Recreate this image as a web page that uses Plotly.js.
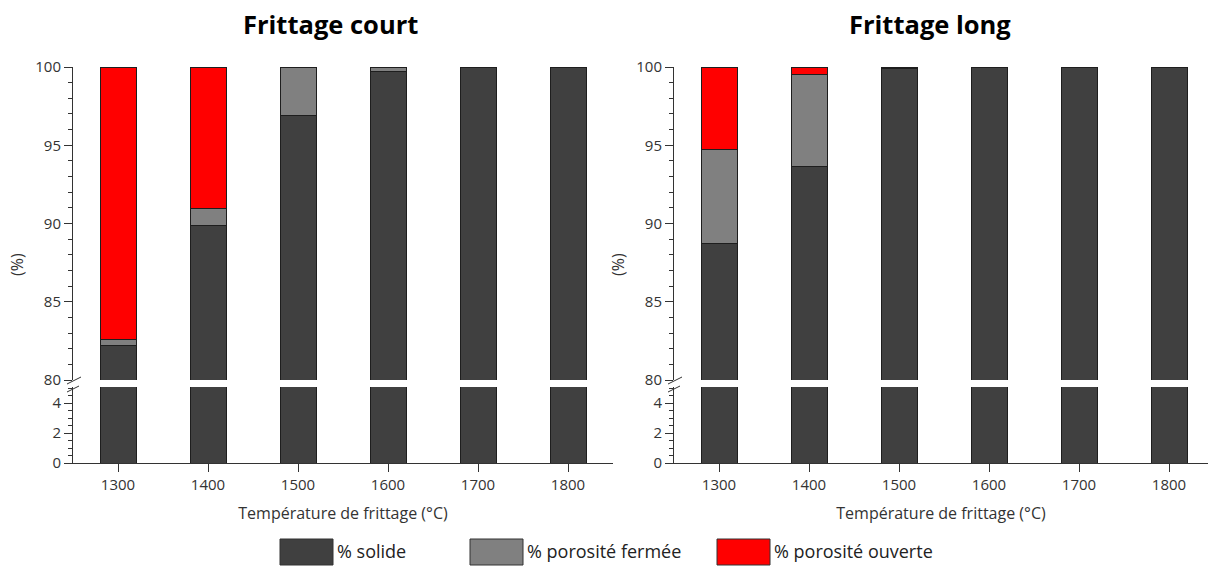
<!DOCTYPE html>
<html>
<head>
<meta charset="utf-8">
<script src="https://cdn.plot.ly/plotly-3.0.1.min.js"></script>
<style>html,body{margin:0;padding:0;background:#fff;}#chart{width:1208px;height:567px;}</style>
</head>
<body>
<div id="chart"></div>
<script>
// ---- data ----
const temps = [1300, 1400, 1500, 1600, 1700, 1800];
const courtSolide  = [82.2, 89.85, 96.9, 99.7, 100, 100];
const courtFermee  = [0.4, 1.1, 3.1, 0.3, 0, 0];
const courtOuverte = [17.4, 9.05, 0, 0, 0, 0];
const longSolide   = [88.75, 93.65, 99.9, 100, 100, 100];
const longFermee   = [5.95, 5.9, 0.1, 0, 0, 0];
const longOuverte  = [5.3, 0.45, 0, 0, 0, 0];
const seriesNames = ['% solide', '% porosité fermée', '% porosité ouverte'];
const panelTitles = ['Frittage court', 'Frittage long'];
const xTitle = 'Température de frittage (°C)';
const yTitle = '(%)';
const upperTicks = [80, 85, 90, 95, 100];
const lowerTicks = [0, 2, 4];

// ---- style ----
const colors = ['#404040', '#808080', '#ff0000'];
const edge = {color: '#1e1e1e', width: 1};
const W = 1208, H = 567;
const px = v => v / W, py = v => 1 - v / H;
const font = {family: 'Open Sans, sans-serif', size: 15, color: '#333'};
const titleFont = {family: 'Open Sans, sans-serif', size: 16, color: '#333'};

function bar(x, y, i, xa, ya) {
  return {type: 'bar', x: x, y: y, name: seriesNames[i], xaxis: xa, yaxis: ya,
    width: 40, marker: {color: colors[i], line: edge}, showlegend: false, hoverinfo: 'x+y+name'};
}
const traces = [
  bar(temps, courtSolide, 0, 'x', 'y'),
  bar(temps, courtFermee, 1, 'x', 'y'),
  bar(temps, courtOuverte, 2, 'x', 'y'),
  bar(temps, courtSolide, 0, 'x', 'y2'),
  bar(temps, longSolide, 0, 'x2', 'y3'),
  bar(temps, longFermee, 1, 'x2', 'y3'),
  bar(temps, longOuverte, 2, 'x2', 'y3'),
  bar(temps, longSolide, 0, 'x2', 'y4'),
];

const upperDom = [py(380), py(67)];
const lowerDom = [py(463), py(387)];
const leftDom = [px(73), px(613)];
const rightDom = [px(674), 1];

function xaxis(dom, anchor, rangeEnd) {
  return {domain: dom, anchor: anchor, range: [1250, rangeEnd], tickvals: temps, ticktext: temps.map(String),
    showline: true, linecolor: '#333', linewidth: 1, ticks: 'outside', ticklen: 8, tickcolor: '#333',
    showgrid: false, zeroline: false, tickfont: font,
    title: {text: xTitle, font: titleFont, standoff: 14}};
}
function yaxis(dom, anchor, range, tickvals, minorDt) {
  return {domain: dom, anchor: anchor, range: range, tickvals: tickvals, ticktext: tickvals.map(String),
    showline: true, linecolor: '#333', linewidth: 1, ticks: 'outside', ticklen: 8, tickcolor: '#333',
    showgrid: false, zeroline: false, tickfont: font,
    minor: {dtick: minorDt, tick0: 0, ticks: 'outside', ticklen: 4, tickcolor: '#333', showgrid: false}};
}

const shapes = [];
const annotations = [];
// axis break marks
[73, 674].forEach(ax => {
  shapes.push({type: 'line', xref: 'paper', yref: 'paper', x0: px(ax - 6), y0: py(384), x1: px(ax + 8), y1: py(377), line: {color: '#333', width: 1}});
  shapes.push({type: 'line', xref: 'paper', yref: 'paper', x0: px(ax - 6), y0: py(392), x1: px(ax + 6), y1: py(386), line: {color: '#333', width: 1}});
});
// titles
annotations.push({text: '<b>' + panelTitles[0] + '</b>', xref: 'paper', yref: 'paper', x: px(330), y: py(24), xanchor: 'center', yanchor: 'middle', showarrow: false, font: {family: 'Open Sans, sans-serif', size: 25.5, color: '#000'}});
annotations.push({text: '<b>' + panelTitles[1] + '</b>', xref: 'paper', yref: 'paper', x: px(930), y: py(24), xanchor: 'center', yanchor: 'middle', showarrow: false, font: {family: 'Open Sans, sans-serif', size: 25.5, color: '#000'}});
// y titles
[17, 618].forEach(xx => annotations.push({text: yTitle, xref: 'paper', yref: 'paper', x: px(xx), y: py(265), textangle: -90, xanchor: 'center', yanchor: 'middle', showarrow: false, font: titleFont}));
// custom legend
const legX = [280, 470, 717];
legX.forEach((lx, i) => {
  shapes.push({type: 'rect', xref: 'paper', yref: 'paper', x0: px(lx), x1: px(lx + 53), y0: py(565), y1: py(539), fillcolor: colors[i], line: {color: '#333', width: 1}});
  annotations.push({text: seriesNames[i], xref: 'paper', yref: 'paper', x: px(lx + 55), y: py(551), xanchor: 'left', yanchor: 'middle', showarrow: false, font: {family: 'Open Sans, sans-serif', size: 18, color: '#222'}});
});

const layout = {
  width: W, height: H, margin: {l: 0, r: 0, t: 0, b: 0},
  paper_bgcolor: '#fff', plot_bgcolor: 'rgba(0,0,0,0)',
  barmode: 'stack', showlegend: false, font: font,
  xaxis: xaxis(leftDom, 'y2', 1850),
  xaxis2: xaxis(rightDom, 'y4', 1250 + (W - 674) / 0.9),
  yaxis: yaxis(upperDom, 'x', [80, 100], upperTicks, 1),
  yaxis2: yaxis(lowerDom, 'x', [0, 5.07], lowerTicks, 0.5),
  yaxis3: yaxis(upperDom, 'x2', [80, 100], upperTicks, 1),
  yaxis4: yaxis(lowerDom, 'x2', [0, 5.07], lowerTicks, 0.5),
  shapes: shapes, annotations: annotations
};
Plotly.newPlot('chart', traces, layout, {displayModeBar: false, staticPlot: true});
</script>
</body>
</html>
